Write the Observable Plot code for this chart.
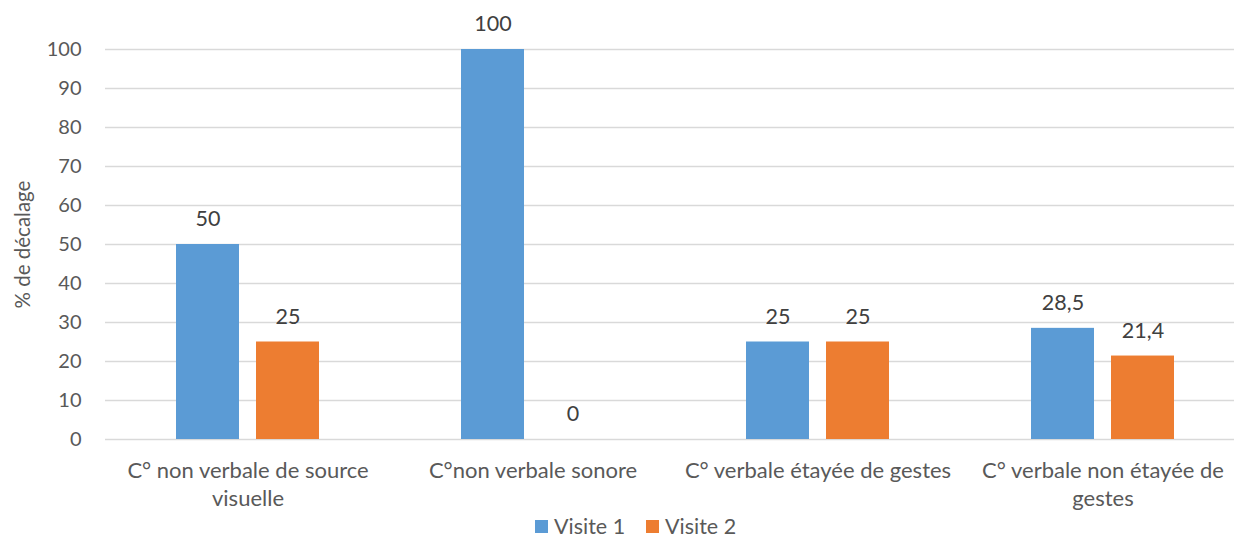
<!DOCTYPE html>
<html><head><meta charset="utf-8">
<script src="https://cdn.jsdelivr.net/npm/d3@7"></script>
<script src="https://cdn.jsdelivr.net/npm/@observablehq/plot@0.6"></script>
<style>
body{margin:0;background:#fff;font-family:Lato,sans-serif;}
#legend{position:relative;height:22px;font-size:21.5px;color:#595959;}
.item{position:absolute;top:0;height:22px;display:flex;align-items:center;}
.sw{width:13px;height:13px;margin-right:6px;}
</style></head><body><div id="chart"></div><div id="legend"></div>
<script>
const categories = ["C° non verbale de source visuelle","C°non verbale sonore","C° verbale étayée de gestes","C° verbale non étayée de gestes"];
const categoryLabels = ["C° non verbale de source\nvisuelle","C°non verbale sonore","C° verbale étayée de gestes","C° verbale non étayée de\ngestes"];
const series = ["Visite 1","Visite 2"];
const visite1 = [50,100,25,28.5];
const visite2 = [25,0,25,21.4];
const labels1 = ["50","100","25","28,5"];
const labels2 = ["25","0","25","21,4"];
const colors = ["#5B9BD5","#ED7D31"];
const yTicks = [0,10,20,30,40,50,60,70,80,90,100];
const yTitle = "% de décalage";

const data = [];
categories.forEach((c,i)=>{
  data.push({category:c, serie:series[0], value:visite1[i], label:labels1[i]});
  data.push({category:c, serie:series[1], value:visite2[i], label:labels2[i]});
});

const chart = Plot.plot({
  width:1234, height:515, marginLeft:104, marginRight:-11, marginTop:49, marginBottom:76,
  style:{fontFamily:"Lato, sans-serif", fontSize:"20px", color:"#595959", background:"#fff", overflow:"visible"},
  fx:{domain:categories, padding:0, label:null},
  x:{domain:series, paddingInner:17/81, paddingOuter:0.866, axis:null},
  y:{domain:[0,100]},
  color:{domain:series, range:colors},
  marks:[
    Plot.gridY({ticks:yTicks, stroke:"#d9d9d9", strokeOpacity:1, strokeWidth:1.3}),
    Plot.axisY({ticks:yTicks, tickSize:0, tickPadding:24, label:null, fill:"#595959", fontSize:20}),
    Plot.text([{category:categories[0], t:yTitle}], {fx:"category", text:"t", frameAnchor:"left", textAnchor:"middle", rotate:-90, dx:-82, fontSize:20.5, fill:"#595959"}),
    Plot.axisFx({anchor:"bottom", tickSize:0, tickPadding:19, tickFormat:d=>categoryLabels[categories.indexOf(d)], lineHeight:1.27, fontSize:22, label:null, fill:"#595959"}),
    Plot.barY(data,{fx:"category", x:"serie", y:"value", fill:"serie"}),
    Plot.text(data,{fx:"category", x:"serie", y:"value", text:"label", dy:-25, fill:"#404040", fontSize:21.5})
  ]
});
document.getElementById("chart").appendChild(chart);

const legend = document.getElementById("legend");
const legendX = [535, 646];
series.forEach((s,i)=>{
  const it = document.createElement("div");
  it.className = "item";
  it.style.left = legendX[i]+"px";
  it.innerHTML = `<span class="sw" style="background:${colors[i]}"></span><span>${s}</span>`;
  legend.appendChild(it);
});
</script></body></html>
